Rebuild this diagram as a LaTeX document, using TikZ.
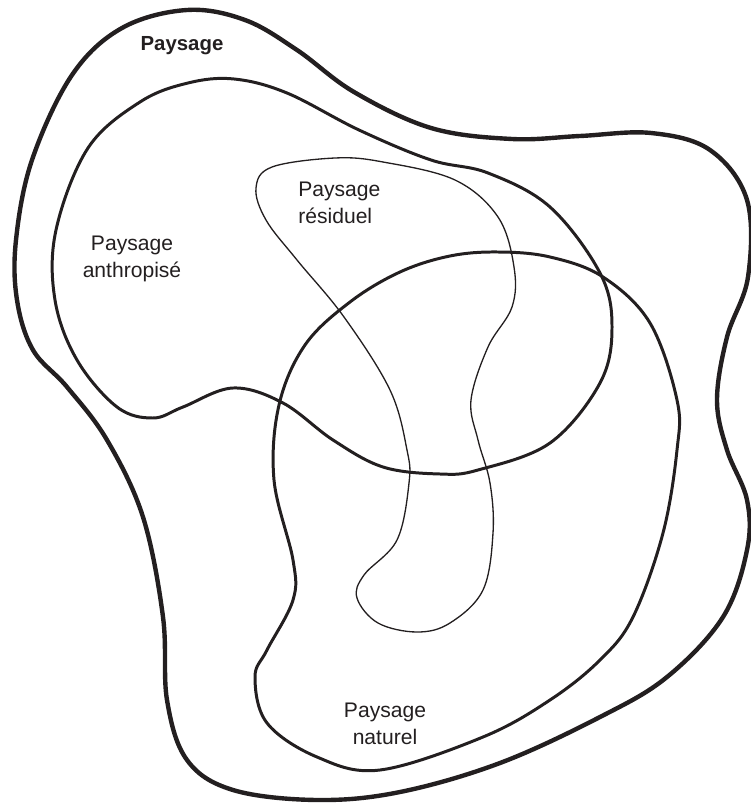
\documentclass[tikz,border=0pt]{standalone}
\usepackage{fontspec}
\setmainfont{Liberation Sans}
\usepackage{xcolor}
\usepackage{tikz}
\definecolor{inkgray}{RGB}{35, 31, 32}
\tikzstyle{zonethick} = [draw=inkgray, line width=2.5pt, line join=round]
\tikzstyle{zone} = [draw=inkgray, line width=1.7pt, line join=round]
\tikzstyle{zonethin} = [draw=inkgray, line width=0.75pt, line join=round]
\tikzstyle{zonetext} = [text=inkgray, align=center, inner sep=0pt, font=\fontsize{12}{15}\selectfont]

\begin{document}
\begin{tikzpicture}[x=0.02cm, y=-0.02cm]
    \useasboundingbox (0,0) rectangle (750,804);

    % Paysage (outer)
    \draw[zonethick] plot[smooth cycle, tension=0.6] coordinates {
        (187,10) (245,20) (297,50) (354,92) (431,128) (512,139) (580,136)
        (651,133) (710,150) (747,200) (748,277) (727,337) (717,400) (727,450)
        (747,500) (747,550) (723,617) (667,677) (600,717) (500,763) (400,792)
        (317,800) (233,790) (187,760) (167,700) (163,617) (143,517) (107,440)
        (67,387) (33,350) (17,300) (16,240) (32,160) (72,75) (122,28)};

    % Paysage anthropise
    \draw[zone] plot[smooth cycle, tension=0.6] coordinates {
        (234,79) (287,93) (359,130) (431,160) (488,173) (550,207) (600,273)
        (612,327) (600,383) (550,443) (478,470) (440,474) (383,467) (333,440)
        (283,403) (233,388) (183,407) (153,418) (117,407) (77,360) (55,300)
        (56,230) (88,148) (140,102) (188,83)};

    % Paysage naturel
    \draw[zone] plot[smooth cycle, tension=0.6] coordinates {
        (498,252) (550,257) (603,277) (650,323) (677,400) (677,450) (663,533)
        (633,617) (600,660) (550,700) (483,737) (380,770) (317,757) (267,723)
        (255,677) (267,650) (293,600) (293,560) (274,480) (279,405) (305,345)
        (350,302) (400,272) (450,256)};

    % Paysage residuel
    \draw[zonethin] plot[smooth cycle, tension=0.6] coordinates {
        (256,188) (272,167) (335,158) (383,162) (455,180) (498,217) (514,267)
        (512,307) (488,347) (471,400) (478,440) (490,483) (493,533) (483,590)
        (450,623) (417,632) (378,623) (357,598) (364,575) (397,540) (409,483)
        (407,450) (390,390) (344,317) (297,260) (266,220)};

    % Labels
    \node[zonetext, font=\fontsize{11.6}{15}\selectfont\bfseries] (paysage) at (182,46) {Paysage};
    \node[zonetext] (anthropise) at (132,259) {Paysage\\anthropisé};
    \node[zonetext, align=left, anchor=west] (residuel) at (298,203) {Paysage\\résiduel};
    \node[zonetext] (naturel) at (385,724) {Paysage\\naturel};
\end{tikzpicture}
\end{document}
